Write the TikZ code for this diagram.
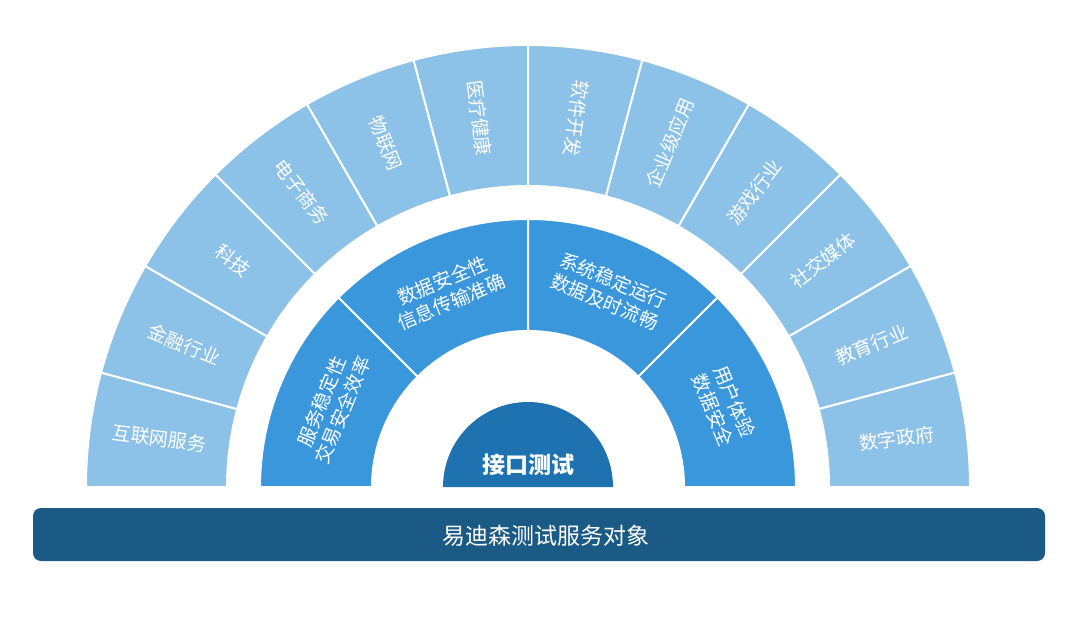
\documentclass[tikz,border=0pt]{standalone}
\usepackage{fontspec}
\setmainfont{Noto Sans CJK SC}
\usetikzlibrary{calc}
\definecolor{outerc}{HTML}{8CC1E8}
\definecolor{midc}{HTML}{3A97DC}
\definecolor{cenc}{HTML}{1F72B0}
\definecolor{barc}{HTML}{1B5A85}
\tikzset{seg/.style={draw=white,line width=2pt},
lbl/.style={text=white,font=\fontsize{19}{23}\selectfont,align=center,inner sep=0pt}}
\begin{document}
\begin{tikzpicture}[x=1pt,y=1pt]
\useasboundingbox (0,0) rectangle (1068,-618);
\coordinate (c) at (528,-487);
% outer ring
\foreach \t [count=\i from 0] in {互联网服务,金融行业,科技,电子商务,物联网,医疗健康,软件开发,企业级应用,游戏行业,社交媒体,教育行业,数字政府}{
  \pgfmathsetmacro\aa{180-15*\i}
  \pgfmathsetmacro\ab{165-15*\i}
  \pgfmathsetmacro\am{172.5-15*\i}
  \pgfmathsetmacro\rot{\am>80 ? \am-180 : \am}
  \fill[outerc,seg] ($(c)+(\aa:442)$) arc[start angle=\aa,end angle=\ab,radius=442] -- ($(c)+(\ab:301)$) arc[start angle=\ab,end angle=\aa,radius=301] -- cycle;
  \node[lbl,rotate=\rot] (o\i) at ($(c)+(\am:372)$) {\t};
}
% middle ring
\foreach \t [count=\i from 0] in {{服务稳定性\\交易安全效率},{数据安全性\\信息传输准确},{系统稳定运行\\数据及时流畅},{用户体验\\数据安全}}{
  \pgfmathsetmacro\aa{180-45*\i}
  \pgfmathsetmacro\ab{135-45*\i}
  \pgfmathsetmacro\am{157.5-45*\i}
  \pgfmathsetmacro\rot{\am-90}
  \fill[midc,seg] ($(c)+(\aa:268)$) arc[start angle=\aa,end angle=\ab,radius=268] -- ($(c)+(\ab:156)$) arc[start angle=\ab,end angle=\aa,radius=156] -- cycle;
  \node[lbl,rotate=\rot] (m\i) at ($(c)+(\am:212)$) {\t};
}
% center
\fill[cenc] ($(c)+(0:85)$) arc[start angle=0,end angle=180,radius=85] -- cycle;
\node[text=white,font=\fontsize{23}{26}\selectfont\bfseries] (cen) at ($(c)+(0,22)$) {接口测试};
% bar
\fill[barc,rounded corners=8pt] (33,-508) rectangle (1045,-561);
\node[text=white,font=\fontsize{23}{26}\selectfont] (bar) at (546,-536) {易迪森测试服务对象};
\end{tikzpicture}
\end{document}
